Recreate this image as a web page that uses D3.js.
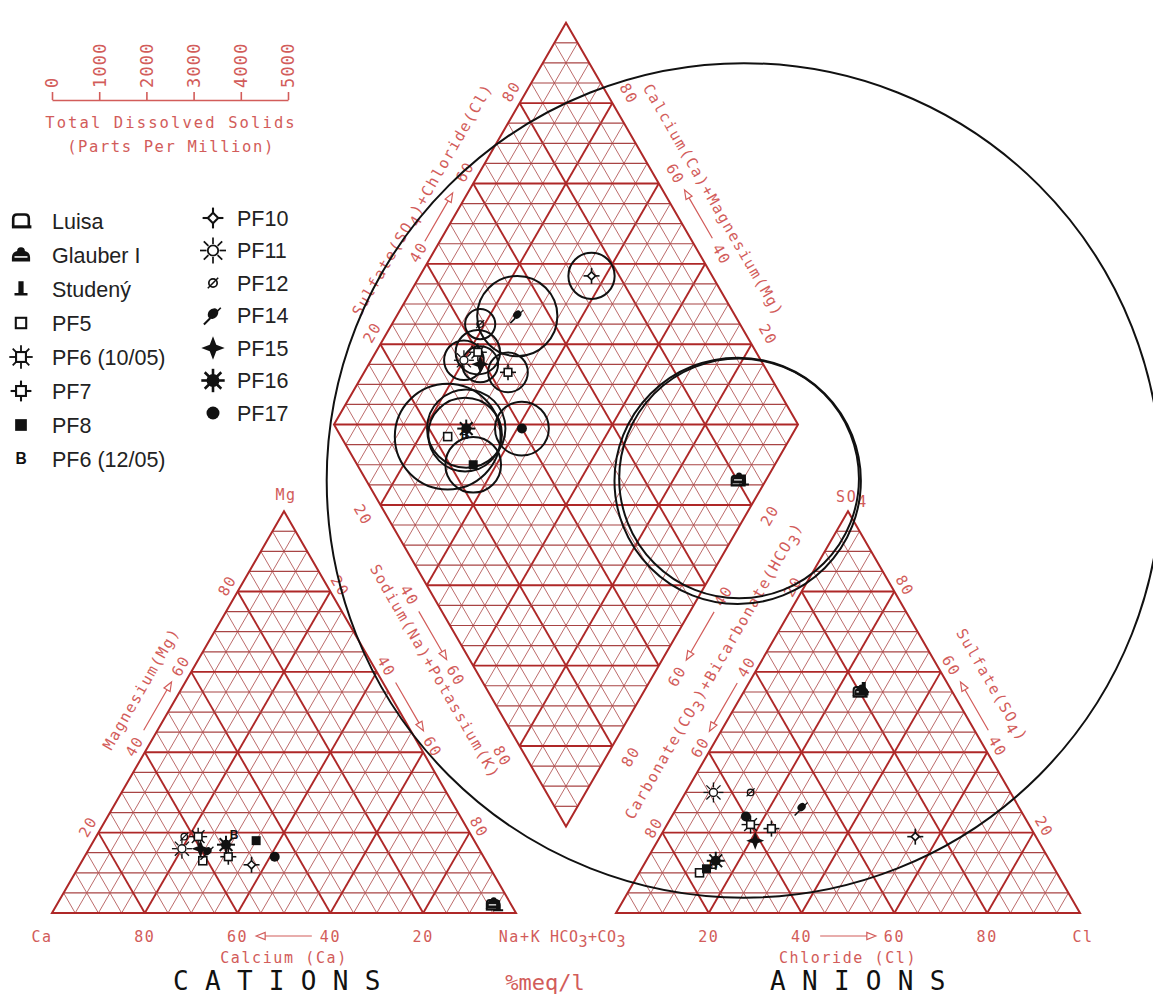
<!DOCTYPE html>
<html>
<head>
<meta charset="utf-8">
<script src="https://cdn.jsdelivr.net/npm/d3@7"></script>
<style>
  body { margin: 0; background: #fff; }
  svg text { font-family: "DejaVu Sans Mono", "Liberation Mono", monospace; }
</style>
</head>
<body>
<svg id="chart" width="1153" height="1001"></svg>
<script>
const svg = d3.select("#chart");

// サンプル（凡例順）
const samples = ["Luisa", "Glauber I", "Studený", "PF5", "PF6 (10/05)", "PF7", "PF8", "PF6 (12/05)",
                 "PF10", "PF11", "PF12", "PF14", "PF15", "PF16", "PF17"];
// 陽イオン %meq/l
const ca  = [4, 3.6, 3, 61, 59, 55, 47, 51, 51, 64, 62, 59, 60, 54, 45];
const mg  = [2, 2.4, 1.7, 13, 19, 14, 18, 19.5, 12, 16, 19, 15, 16, 17, 14];
const na  = [94, 94, 95.3, 26, 22, 31, 35, 29.5, 37, 20, 19, 26, 24, 29, 41];
// 陰イオン %meq/l
const hco3 = [20, 19.4, 18.6, 77, 60, 56, 75, 73, 26, 64, 56, 47, 61, 72, 60];
const so4  = [55, 55.4, 56, 10, 22, 21, 11, 12, 19, 30, 30, 26, 18, 13, 24];
const cl   = [25, 25.2, 25.4, 13, 18, 23, 14, 15, 55, 6, 14, 27, 21, 15, 16];
// 溶存成分総量 (ppm)
const tds = [2610, 2540, 8840, 1120, 470, 420, 590, 780, 490, 420, 320, 850, 380, 830, 570];

const tdsTicks = [0, 1000, 2000, 3000, 4000, 5000];
const pctTicks = [20, 40, 60, 80];

// --- レイアウト ---
const red = "#d25c5a";
const side = 464, triH = side * Math.sqrt(3) / 2, baseY = 913, gap = 100;
const catLeft = 52, anLeft = catLeft + side + gap, midX = catLeft + side + gap / 2;
const diaBottom = baseY - gap / 2 * Math.sqrt(3);

const catX = d3.scaleLinear().domain([0, 100]).range([catLeft, catLeft + side]);
const anX = d3.scaleLinear().domain([0, 100]).range([anLeft, anLeft + side]);
const triY = d3.scaleLinear().domain([0, 100]).range([baseY, baseY - triH]);
const diaX = d3.scaleLinear().domain([-100, 100]).range([midX - side / 2, midX + side / 2]);
const diaY = d3.scaleLinear().domain([0, 200]).range([diaBottom, diaBottom - 2 * triH]);
const tdsX = d3.scaleLinear().domain([0, 5000]).range([52, 288]);
const radius = d3.scaleLinear().domain(tdsX.domain()).range([0, tdsX(5000) - tdsX(0)]);

const catPt = (c, m, n) => [catX(n + m / 2), triY(m)];
const anPt = (h, s, l) => [anX(l + s / 2), triY(s)];
const diaPt = (cm, sc) => [diaX(sc - cm), diaY(sc + cm)];

// --- グリッド ---
const gridG = svg.append("g");
function seg(p, q, major, horiz) {
  gridG.append("line")
    .attr("x1", p[0]).attr("y1", p[1]).attr("x2", q[0]).attr("y2", q[1])
    .attr("stroke", major ? "#ae2828" : (horiz ? "#a84444" : "#b45a5a"))
    .attr("stroke-width", major ? 1.9 : (horiz ? 1.2 : 0.9));
}
d3.range(5, 100, 5).forEach(v => {
  const major = v % 20 === 0;
  seg(catPt(100 - v, v, 0), catPt(0, v, 100 - v), major, true);
  seg(catPt(100 - v, 0, v), catPt(0, 100 - v, v), major);
  seg(catPt(v, 0, 100 - v), catPt(v, 100 - v, 0), major);
  seg(anPt(100 - v, v, 0), anPt(0, v, 100 - v), major, true);
  seg(anPt(100 - v, 0, v), anPt(0, 100 - v, v), major);
  seg(anPt(v, 0, 100 - v), anPt(v, 100 - v, 0), major);
  seg(diaPt(0, v), diaPt(100, v), major);
  seg(diaPt(v, 0), diaPt(v, 100), major);
});
d3.range(5, 200, 5).forEach(s => {
  const w = Math.min(s, 200 - s);
  seg([diaX(-w), diaY(s)], [diaX(w), diaY(s)], s % 20 === 0, true);
});
const outlines = [
  [catPt(100, 0, 0), catPt(0, 0, 100), catPt(0, 100, 0)],
  [anPt(100, 0, 0), anPt(0, 0, 100), anPt(0, 100, 0)],
  [diaPt(0, 0), diaPt(0, 100), diaPt(100, 100), diaPt(100, 0)]
];
gridG.selectAll("polygon").data(outlines).enter().append("polygon")
  .attr("points", d => d.map(p => p.join(",")).join(" "))
  .attr("fill", "none").attr("stroke", "#ae2828").attr("stroke-width", 2);

// --- 軸ラベル ---
const labG = svg.append("g").attr("fill", red).attr("text-anchor", "middle")
  .style("font-size", "15px").style("letter-spacing", "1.6px");
const nUL = [-0.866, -0.5], nUR = [0.866, -0.5], nDL = [-0.866, 0.5], nDR = [0.866, 0.5];

// parts: 文字列、または [文字列, 下付き?] の配列
function label(p, nrm, off, parts, angle) {
  const x = p[0] + nrm[0] * off, y = p[1] + nrm[1] * off;
  const t = labG.append("text")
    .attr("transform", `translate(${x},${y}) rotate(${angle})`)
    .attr("dy", "0.35em");
  if (!Array.isArray(parts)) parts = [[String(parts)]];
  let prevSub = false;
  parts.forEach(([s, sub], i) => {
    const dy = i === 0 ? null : (sub ? 5 : (prevSub ? -5 : null));
    t.append("tspan").attr("dy", dy).text(s);
    prevSub = !!sub;
  });
  return t;
}

function arrow(p, q) {
  const dx = q[0] - p[0], dy = q[1] - p[1], L = Math.hypot(dx, dy);
  const ux = dx / L, uy = dy / L, hl = 9, hw = 3.5;
  const bx = q[0] - ux * hl, by = q[1] - uy * hl;
  labG.append("path")
    .attr("d", `M${p[0]},${p[1]}L${bx},${by}M${q[0]},${q[1]}L${bx - uy * hw},${by + ux * hw}L${bx + uy * hw},${by - ux * hw}Z`)
    .attr("fill", "none").attr("stroke", red).attr("stroke-width", 1.2);
}
const off = (p, n, d) => [p[0] + n[0] * d, p[1] + n[1] * d];

pctTicks.forEach(v => {
  label(catPt(100 - v, v, 0), nUL, 12, v, -60);                       // Mg
  label(catPt(0, 100 - v, v), nUR, 11, v, 60);                        // Na+K（陽イオン三角形）
  label(diaPt(100 - v, 0), nDL, 20, v, 60);                           // Na+K（菱形）
  label(off(diaPt(100, v), [0.5, -0.866], 6), nUL, 13, v, -60);      // SO4+Cl
  label(diaPt(v, 100), nUR, 19, v, 60);                               // Ca+Mg
  label(diaPt(0, 100 - v), nDR, 21, v, -60);                          // HCO3（菱形）
  label(anPt(v, 100 - v, 0), nUL, 10, v, -60);                        // HCO3（陰イオン三角形）
  label(anPt(0, v, 100 - v), nUR, 12, v, 60);                         // SO4
  const cb = catPt(v, 0, 100 - v), ab = anPt(100 - v, 0, v);
  label([cb[0], cb[1] + 24], [0, 0], 0, v, 0);
  label([ab[0], ab[1] + 24], [0, 0], 0, v, 0);
});

// 軸タイトル
label(catPt(48.5, 51.5, 0), nUL, 35, "Magnesium(Mg)", -60);
label(diaPt(43, 0), nDL, 36, "Sodium(Na)+Potassium(K)", 60);
label(diaPt(100, 51.5), nUL, 36, [["Sulfate(SO"], ["4", 1], [")+Chloride(Cl)"]], -60);
label(diaPt(51, 100), nUR, 39, "Calcium(Ca)+Magnesium(Mg)", 60);
label(diaPt(0, 45), nDR, 50, [["Carbonate(CO"], ["3", 1], [")+Bicarbonate(HCO"], ["3", 1], [")"]], -60);
label(anPt(0, 52, 48), nUR, 38, [["Sulfate(SO"], ["4", 1], [")"]], 60);
label([catPt(50, 0, 50)[0], baseY + 45], [0, 0], 0, "Calcium (Ca)", 0);
label([anPt(50, 0, 50)[0], baseY + 45], [0, 0], 0, "Chloride (Cl)", 0);

// 角のラベル
label([catX(0) - 10, baseY + 24], [0, 0], 0, "Ca", 0);
label([catX(100) + 4, baseY + 24], [0, 0], 0, "Na+K", 0);
label([anX(0) - 28, baseY + 24], [0, 0], 0, [["HCO"], ["3", 1], ["+CO"], ["3", 1]], 0)
  .style("letter-spacing", "0.5px");
label([anX(100) + 3, baseY + 24], [0, 0], 0, "Cl", 0);
label([catPt(0, 100, 0)[0] + 2, catPt(0, 100, 0)[1] - 16], [0, 0], 0, "Mg", 0);
label([anPt(0, 100, 0)[0] + 4, anPt(0, 100, 0)[1] - 14], [0, 0], 0, [["SO"], ["4", 1]], 0);

// 矢印（値が増える向き）
arrow(off(catPt(56, 44, 0), nUL, 12), off(catPt(44, 56, 0), nUL, 12));
arrow(off(catPt(0, 56, 44), nUR, 11), off(catPt(0, 44, 56), nUR, 11));
arrow(off(diaPt(56, 0), nDL, 20), off(diaPt(44, 0), nDL, 20));
arrow(off(diaPt(100, 44), nUL, 13), off(diaPt(100, 56), nUL, 13));
arrow(off(diaPt(44, 100), nUR, 19), off(diaPt(56, 100), nUR, 19));
arrow(off(diaPt(0, 56), nDR, 21), off(diaPt(0, 44), nDR, 21));
arrow(off(anPt(44, 56, 0), nUL, 10), off(anPt(56, 44, 0), nUL, 10));
arrow(off(anPt(0, 44, 56), nUR, 12), off(anPt(0, 56, 44), nUR, 12));
arrow([catX(56), baseY + 23], [catX(44), baseY + 23]);
arrow([anX(44), baseY + 23], [anX(56), baseY + 23]);

// 下部タイトル
svg.append("text").attr("x", 173).attr("y", 990)
  .style("font-size", "26px").style("letter-spacing", "16.3px").attr("fill", "#111").text("CATIONS");
svg.append("text").attr("x", 545).attr("y", 990).attr("text-anchor", "middle")
  .style("font-size", "22px").attr("fill", red).text("%meq/l");
svg.append("text").attr("x", 770).attr("y", 990)
  .style("font-size", "26px").style("letter-spacing", "16.3px").attr("fill", "#111").text("ANIONS");

// --- TDS スケール ---
const tdsAxis = svg.append("g").attr("transform", "translate(0,100)")
  .call(d3.axisTop(tdsX).tickValues(tdsTicks).tickSize(8).tickSizeOuter(0).tickFormat(d3.format("d")));
tdsAxis.select(".domain").attr("stroke", red).attr("stroke-width", 1.6);
tdsAxis.selectAll(".tick line").attr("stroke", red).attr("stroke-width", 1.6);
tdsAxis.selectAll(".tick text")
  .attr("fill", red).attr("text-anchor", "start")
  .attr("transform", "translate(0,-12) rotate(-90)")
  .attr("x", 0).attr("y", 0).attr("dy", "0.35em")
  .style("font-size", "17px").style("letter-spacing", "1.2px")
  .style("font-family", "DejaVu Sans Mono, monospace");
svg.append("text").attr("x", 171).attr("y", 128).attr("text-anchor", "middle").attr("fill", red)
  .style("font-size", "15.5px").style("letter-spacing", "2.1px").text("Total Dissolved Solids");
svg.append("text").attr("x", 171).attr("y", 152).attr("text-anchor", "middle").attr("fill", red)
  .style("font-size", "15.5px").style("letter-spacing", "1.6px").text("(Parts Per Million)");

// --- マーカー形状 ---
const ink = "#111";
function spikes(g, n, r0, r1, w) {
  d3.range(n).forEach(i => {
    const a = i * 2 * Math.PI / n;
    g.append("line").attr("x1", r0 * Math.cos(a)).attr("y1", r0 * Math.sin(a))
      .attr("x2", r1 * Math.cos(a)).attr("y2", r1 * Math.sin(a))
      .attr("stroke", ink).attr("stroke-width", w);
  });
}
const markerDraw = {
  "Luisa": g => {
    g.append("path").attr("d", "M-6,4V-2Q-6,-5 -3,-5H3Q6,-5 6,-2V4")
      .attr("fill", "#fff").attr("stroke", ink).attr("stroke-width", 2);
    g.append("path").attr("d", "M-7,4.5H8").attr("stroke", ink).attr("stroke-width", 2.4);
  },
  "Glauber I": g => {
    g.append("path").attr("d", "M-7,5H7V2Q7,-2 3,-3Q3,-6 0,-6Q-3,-6 -3,-3Q-7,-2 -7,2Z").attr("fill", ink);
    g.append("path").attr("d", "M-5,1.5H5").attr("stroke", "#fff").attr("stroke-width", 1.2);
  },
  "Studený": g => {
    g.append("path").attr("d", "M-5,5H5V3H2V-6H-2V3H-5Z").attr("fill", ink);
  },
  "PF5": g => {
    g.append("rect").attr("x", -4).attr("y", -4).attr("width", 8).attr("height", 8)
      .attr("fill", "#fff").attr("stroke", ink).attr("stroke-width", 1.6);
  },
  "PF6 (10/05)": g => {
    spikes(g, 8, 4, 9, 1.4);
    g.append("rect").attr("x", -3.8).attr("y", -3.8).attr("width", 7.6).attr("height", 7.6)
      .attr("fill", "#fff").attr("stroke", ink).attr("stroke-width", 1.6);
  },
  "PF7": g => {
    spikes(g, 4, 3.5, 8, 1.6);
    g.append("rect").attr("x", -3.8).attr("y", -3.8).attr("width", 7.6).attr("height", 7.6)
      .attr("fill", "#fff").attr("stroke", ink).attr("stroke-width", 1.6);
  },
  "PF8": g => {
    g.append("rect").attr("x", -4.5).attr("y", -4.5).attr("width", 9).attr("height", 9).attr("fill", ink);
  },
  "PF6 (12/05)": g => {
    g.append("text").attr("text-anchor", "middle").attr("dy", "0.35em").attr("fill", ink)
      .style("font-family", "Liberation Sans, Arial, sans-serif").style("font-weight", "bold")
      .style("font-size", "12px").text("B");
  },
  "PF10": g => {
    spikes(g, 4, 3.5, 8, 1.6);
    g.append("path").attr("d", "M0,-4L4,0L0,4L-4,0Z")
      .attr("fill", "#fff").attr("stroke", ink).attr("stroke-width", 1.6);
  },
  "PF11": g => {
    spikes(g, 8, 5, 10, 1.3);
    g.append("circle").attr("r", 4).attr("fill", "#fff").attr("stroke", ink).attr("stroke-width", 1.4);
  },
  "PF12": g => {
    g.append("circle").attr("r", 3.2).attr("fill", "none").attr("stroke", ink).attr("stroke-width", 1.3);
    g.append("line").attr("x1", -4).attr("y1", 4).attr("x2", 4).attr("y2", -4)
      .attr("stroke", ink).attr("stroke-width", 1.2);
  },
  "PF14": g => {
    g.append("ellipse").attr("cx", 1).attr("cy", -1).attr("rx", 4.5).attr("ry", 3.6)
      .attr("transform", "rotate(-45)").attr("fill", ink);
    g.append("line").attr("x1", -2).attr("y1", 2).attr("x2", -7).attr("y2", 7)
      .attr("stroke", ink).attr("stroke-width", 1.6);
    g.append("line").attr("x1", 3).attr("y1", -3).attr("x2", 6).attr("y2", -6)
      .attr("stroke", ink).attr("stroke-width", 1.2);
  },
  "PF15": g => {
    g.append("path").attr("d", "M0,-9L2.5,-2.5L9,0L2.5,2.5L0,9L-2.5,2.5L-9,0L-2.5,-2.5Z").attr("fill", ink);
  },
  "PF16": g => {
    spikes(g, 8, 3, 9, 2);
    g.append("circle").attr("r", 5).attr("fill", ink);
  },
  "PF17": g => {
    g.append("circle").attr("r", 5).attr("fill", ink);
  }
};

// --- TDS 円 ---
const rows = samples.map((name, i) => ({
  name, tds: tds[i],
  cat: catPt(ca[i], mg[i], na[i]),
  an: anPt(hco3[i], so4[i], cl[i]),
  dia: diaPt(ca[i] + mg[i], so4[i] + cl[i])
}));

svg.append("g").selectAll("circle").data(rows).enter().append("circle")
  .attr("cx", d => d.dia[0]).attr("cy", d => d.dia[1])
  .attr("r", d => radius(d.tds))
  .attr("fill", "none").attr("stroke", "#111").attr("stroke-width", 2);

// --- 点 ---
const ptG = svg.append("g");
rows.forEach(d => {
  [d.cat, d.an, d.dia].forEach(p => {
    const g = ptG.append("g").attr("transform", `translate(${p[0]},${p[1]})`);
    markerDraw[d.name](g);
  });
});

// --- 凡例 ---
const legend = svg.append("g");
rows.forEach((d, i) => {
  const left = i < 8;
  const k = left ? i : i - 8;
  const y = left ? 221 + k * 34 : 218 + k * 32.5;
  const g = legend.append("g").attr("transform", `translate(${left ? 21 : 213},${y}) scale(1.3)`);
  markerDraw[d.name](g);
  legend.append("text").attr("x", left ? 52 : 237).attr("y", y).attr("dy", "0.35em")
    .style("font-family", "Liberation Sans, Arial, sans-serif").style("font-size", "21.5px")
    .attr("fill", "#222").text(d.name);
});
</script>
</body>
</html>
